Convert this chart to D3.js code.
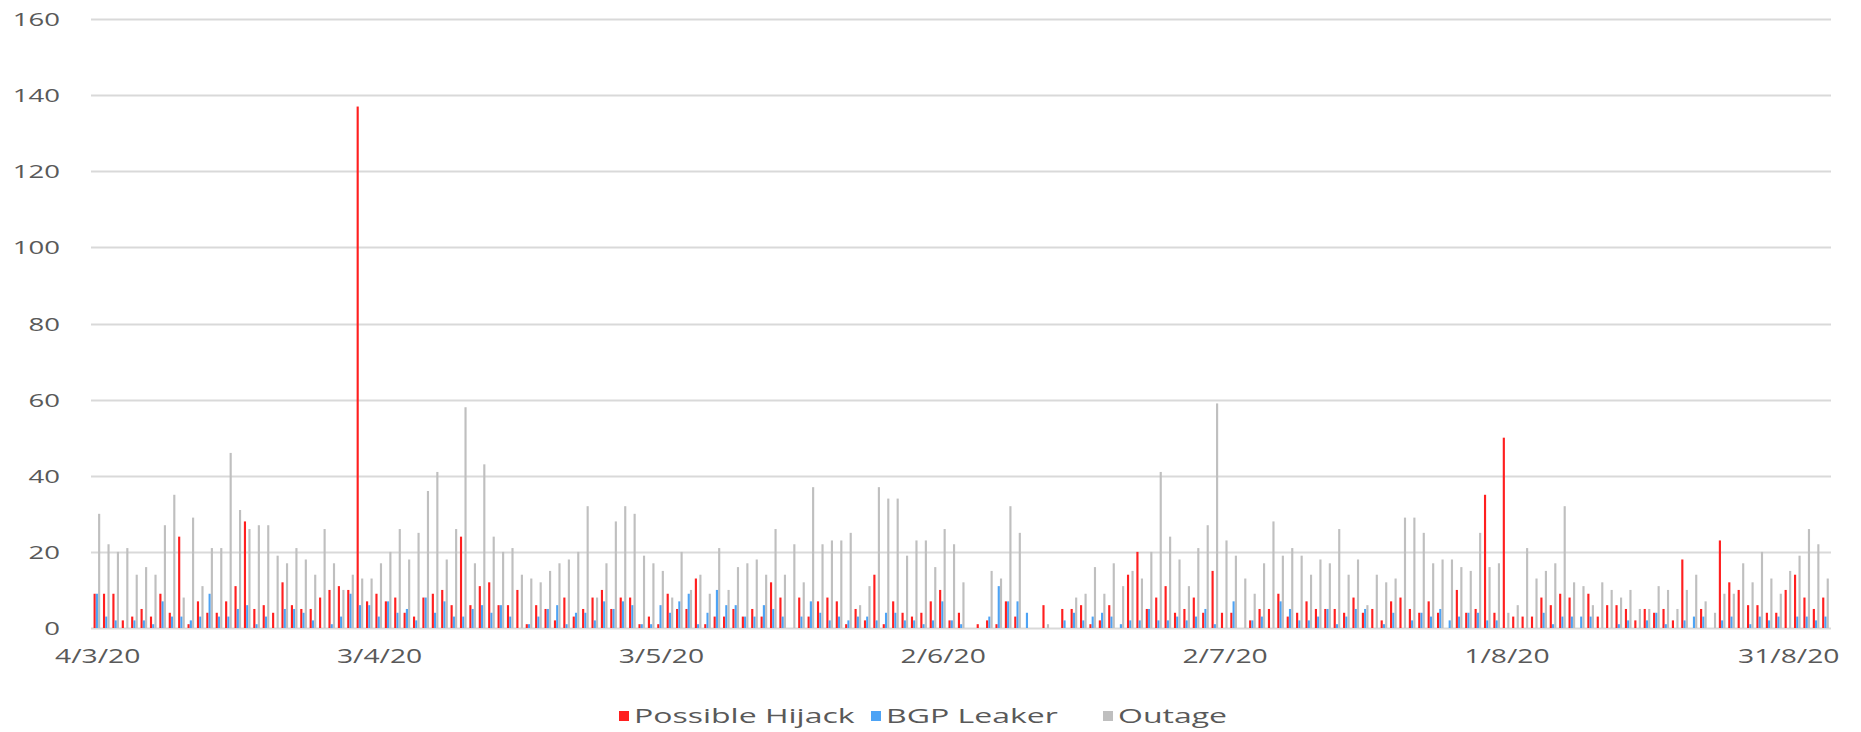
<!DOCTYPE html>
<html>
<head>
<meta charset="utf-8">
<script src="https://cdn.jsdelivr.net/npm/d3@7"></script>
<style>
  body { margin: 0; background: #fff; }
  svg text { font-family: "Open Sans", "Noto Sans", sans-serif; fill: #595959; }
</style>
</head>
<body>
<div id="chart"></div>
<script>
// daily counts, 4/3/20 .. 4/9/20
const hijack = [
  9, 9, 9, 2, 3, 5, 3, 9, 4, 24, 1, 7, 4, 4, 7, 11, 28, 5, 6, 4,
  12, 6, 5, 5, 8, 10, 11, 10, 137, 7, 9, 7, 8, 4, 3, 8, 9, 10, 6, 24,
  6, 11, 12, 6, 6, 10, 1, 6, 5, 2, 8, 3, 5, 8, 10, 5, 8, 8, 1, 3,
  1, 9, 5, 5, 13, 1, 3, 3, 5, 3, 5, 3, 12, 8, 0, 8, 3, 7, 8, 7,
  1, 5, 2, 14, 1, 7, 4, 3, 4, 7, 10, 2, 4, 0, 1, 2, 1, 7, 3, 0,
  0, 6, 0, 5, 5, 6, 1, 2, 6, 0, 14, 20, 5, 8, 11, 4, 5, 8, 4, 15,
  4, 4, 0, 2, 5, 5, 9, 3, 4, 7, 5, 5, 5, 4, 8, 4, 5, 2, 7, 8,
  5, 4, 7, 4, 0, 10, 4, 5, 35, 4, 50, 3, 3, 3, 8, 6, 9, 8, 0, 9,
  3, 6, 6, 5, 2, 5, 4, 5, 2, 18, 0, 5, 0, 23, 12, 10, 6, 6, 4, 4,
  10, 14, 8, 5, 8
];
const leaker = [
  9, 3, 2, 0, 2, 2, 1, 7, 3, 3, 2, 3, 9, 3, 3, 5, 6, 1, 3, 0,
  5, 5, 4, 2, 0, 1, 3, 9, 6, 6, 3, 7, 4, 5, 2, 8, 4, 7, 3, 3,
  5, 6, 4, 6, 3, 0, 1, 3, 5, 6, 1, 4, 4, 2, 7, 5, 7, 6, 1, 1,
  6, 4, 7, 9, 1, 4, 10, 6, 6, 3, 3, 6, 5, 3, 0, 3, 7, 4, 2, 3,
  2, 3, 3, 2, 4, 4, 2, 2, 1, 2, 7, 2, 1, 0, 0, 3, 11, 7, 7, 4,
  0, 0, 0, 2, 4, 2, 3, 4, 3, 1, 2, 2, 5, 2, 2, 3, 2, 3, 5, 1,
  0, 7, 0, 2, 3, 0, 7, 5, 2, 2, 3, 5, 1, 3, 5, 5, 0, 1, 4, 0,
  2, 4, 3, 5, 2, 3, 4, 4, 2, 2, 0, 0, 0, 0, 4, 1, 3, 3, 3, 3,
  0, 0, 1, 2, 0, 2, 4, 1, 0, 2, 3, 3, 0, 2, 3, 0, 1, 3, 2, 3,
  0, 3, 3, 2, 3
];
const outage = [
  30, 22, 20, 21, 14, 16, 14, 27, 35, 8, 29, 11, 21, 21, 46, 31, 26, 27, 27, 19,
  17, 21, 18, 14, 26, 17, 10, 14, 13, 13, 17, 20, 26, 18, 25, 36, 41, 18, 26, 58,
  17, 43, 24, 20, 21, 14, 13, 12, 15, 17, 18, 20, 32, 8, 17, 28, 32, 30, 19, 17,
  15, 8, 20, 10, 14, 9, 21, 10, 16, 17, 18, 14, 26, 14, 22, 12, 37, 22, 23, 23,
  25, 6, 11, 37, 34, 34, 19, 23, 23, 16, 26, 22, 12, 0, 0, 15, 13, 32, 25, 0,
  0, 1, 0, 0, 8, 9, 16, 9, 17, 11, 15, 13, 20, 41, 24, 18, 11, 21, 27, 59,
  23, 19, 13, 9, 17, 28, 19, 21, 19, 14, 18, 17, 26, 14, 18, 6, 14, 12, 13, 29,
  29, 25, 17, 18, 18, 16, 15, 25, 16, 17, 4, 6, 21, 13, 15, 17, 32, 12, 11, 6,
  12, 10, 8, 10, 5, 5, 11, 10, 5, 10, 14, 7, 4, 9, 9, 17, 12, 20, 13, 9,
  15, 19, 26, 22, 13
];
const seriesNames = ["Possible Hijack", "BGP Leaker", "Outage"];
const seriesColors = ["#ff1f1f", "#4da3f5", "#bfbfbf"];
const tickLabels = ["4/3/20", "3/4/20", "3/5/20", "2/6/20", "2/7/20", "1/8/20", "31/8/20"];
const yTicks = [0, 20, 40, 60, 80, 100, 120, 140, 160];

const width = 1861, height = 732;
const plotL = 93, plotR = 1831, plotT = 19, plotB = 628;
const stretch = 1.45; // the source picture is widened horizontally

const svg = d3.select("#chart").append("svg")
  .attr("width", width).attr("height", height);

const start = new Date(2020, 2, 4);
const days = d3.timeDay.range(start, d3.timeDay.offset(start, hijack.length));
const fmt = d3.timeFormat("%-d/%-m/%y");

const x = d3.scaleBand().domain(days.map((d, i) => i)).range([plotL, plotR]);
const inner = d3.scaleBand().domain(d3.range(3)).range([0, x.bandwidth() * 0.72]);
const y = d3.scaleLinear().domain([0, 160]).range([plotB, plotT]);

// gridlines
svg.append("g").selectAll("line").data(yTicks).join("line")
  .attr("x1", plotL - 2).attr("x2", plotR)
  .attr("y1", d => Math.round(y(d)) + 0.5).attr("y2", d => Math.round(y(d)) + 0.5)
  .attr("stroke", "#d9d9d9").attr("stroke-width", 2);

// y labels
svg.append("g").selectAll("text").data(yTicks).join("text")
  .attr("transform", d => `translate(60,${y(d) + 7}) scale(${stretch},1)`)
  .attr("text-anchor", "end")
  .attr("font-size", 19)
  .text(d => d);

// bars
const series = [hijack, leaker, outage];
const groups = svg.append("g").selectAll("g").data(series).join("g")
  .attr("fill", (d, i) => seriesColors[i]);
groups.each(function(vals, si) {
  d3.select(this).selectAll("rect").data(vals).join("rect")
    .attr("x", (v, i) => x(i) + x.bandwidth() * 0.06 + inner(si))
    .attr("width", inner.bandwidth() * 0.95)
    .attr("y", v => y(v))
    .attr("height", v => y(0) - y(v));
});

// x labels
const tickIdx = days.map((d, i) => [fmt(d), i]).filter(([s]) => tickLabels.includes(s));
svg.append("g").selectAll("text").data(tickIdx).join("text")
  .attr("transform", d => `translate(${x(d[1]) + x.bandwidth() / 2},${plotB + 35}) scale(${stretch},1)`)
  .attr("text-anchor", "middle")
  .attr("font-size", 19.5)
  .text(d => d[0]);

// legend
const legendX = [619, 871, 1103];
const lg = svg.append("g").selectAll("g").data(seriesNames).join("g")
  .attr("transform", (d, i) => `translate(${legendX[i]},717)`);
lg.append("rect").attr("x", 0).attr("y", -6).attr("width", 10).attr("height", 10)
  .attr("fill", (d, i) => seriesColors[i]);
lg.append("text")
  .attr("transform", `translate(15,6) scale(1.6,1)`)
  .attr("font-size", 20)
  .text(d => d);
</script>
</body>
</html>
